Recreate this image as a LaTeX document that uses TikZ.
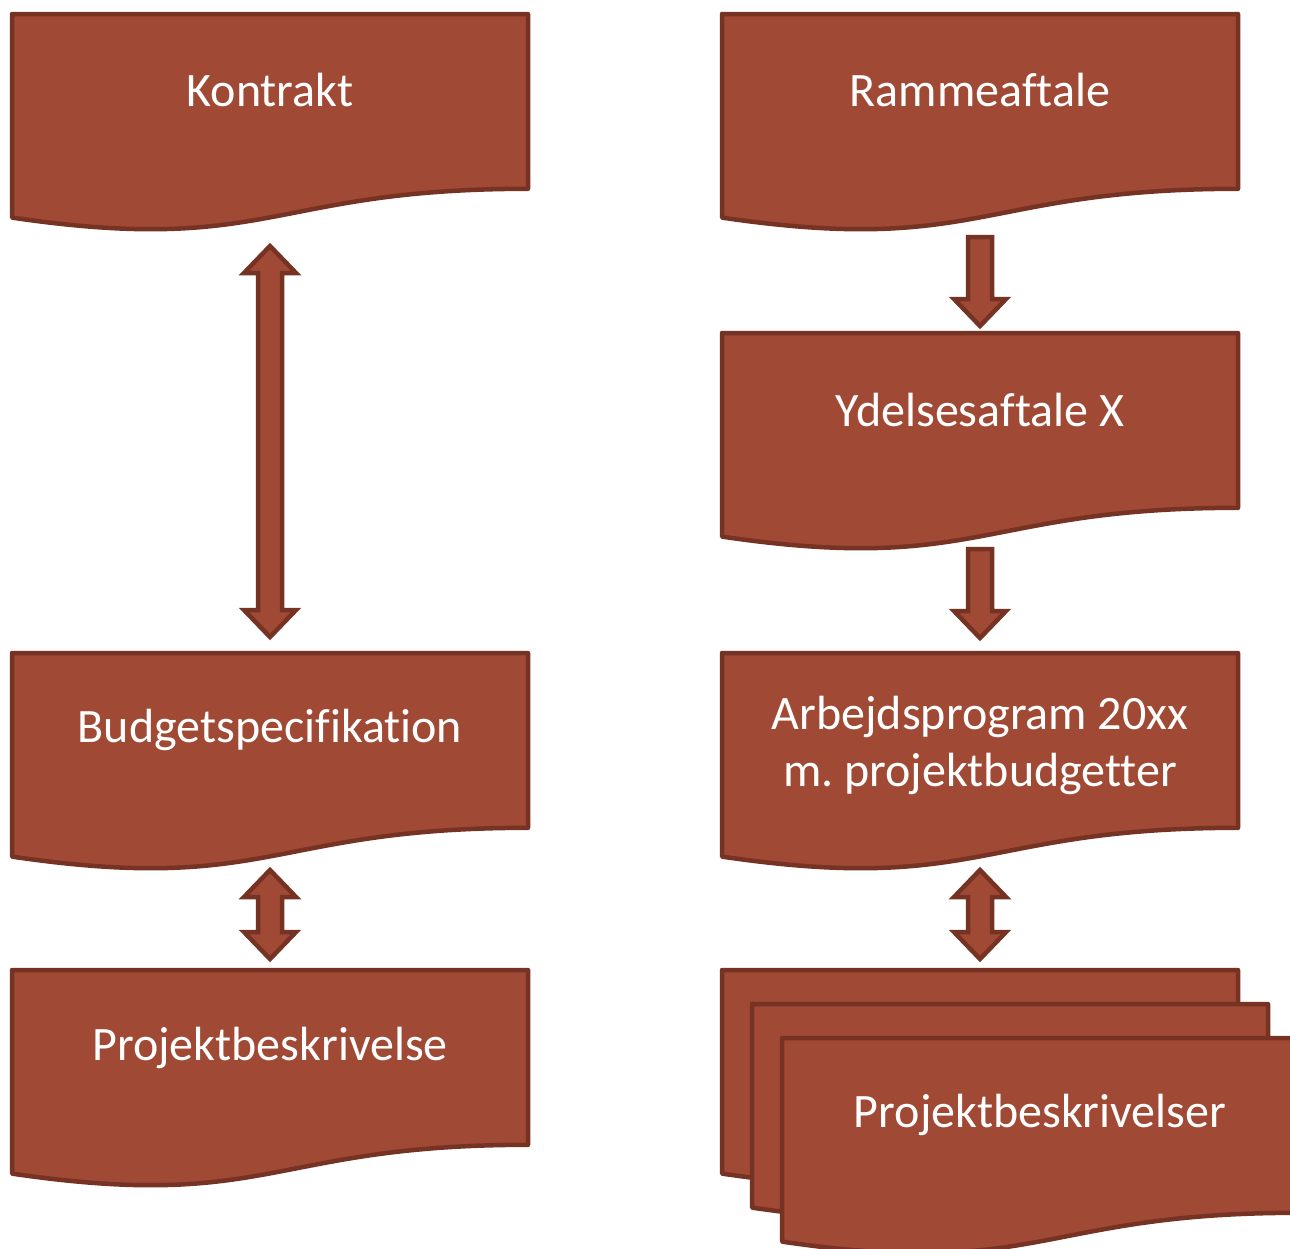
\documentclass[tikz,border=0pt]{standalone}
\usepackage{fontspec}
\setmainfont[Ligatures=CommonOff]{Carlito}
\frenchspacing
\definecolor{docfill}{RGB}{160,74,54}
\definecolor{docline}{RGB}{118,50,35}
\tikzset{
  docstyle/.style={fill=docfill,draw=docline,line width=4.5pt,line join=round},
  arrstyle/.style={fill=docfill,draw=docline,line width=4.5pt,line join=miter},
  doctext/.style={text=white,font=\fontsize{48}{57}\selectfont,align=center,inner sep=0pt}
}
% x0, y0 : top-left corner of a document shape (width 516, height 218)
\newcommand\mydoc[2]{%
  \filldraw[docstyle] (#1,#2) -- ({#1+516},#2) -- ({#1+516},{#2+174.8})
    .. controls ({#1+258},{#2+174.8}) and ({#1+258},{#2+241.4}) .. (#1,{#2+203.6}) -- cycle;}
% centre x, shaft top, tip
\newcommand\mydown[3]{%
  \filldraw[arrstyle] ({#1-12},#2) -- ({#1+12},#2) -- ({#1+12},{#3-27}) -- ({#1+26},{#3-27})
    -- (#1,#3) -- ({#1-26},{#3-27}) -- ({#1-12},{#3-27}) -- cycle;}
% centre x, top tip, bottom tip
\newcommand\mydouble[3]{%
  \filldraw[arrstyle] (#1,#2) -- ({#1+26},{#2+27}) -- ({#1+12},{#2+27}) -- ({#1+12},{#3-27})
    -- ({#1+26},{#3-27}) -- (#1,#3) -- ({#1-26},{#3-27}) -- ({#1-12},{#3-27})
    -- ({#1-12},{#2+27}) -- ({#1-26},{#2+27}) -- cycle;}
\begin{document}
\begin{tikzpicture}[x=1pt,y=-1pt]
\clip (0,0) rectangle (1290,1248);
% left column
\mydoc{12}{14}
\node[doctext] (kontrakt) at (270,90) {Kontrakt};
\mydouble{270}{246}{637}
\mydoc{12}{653}
\node[doctext] (budget) at (270,730) {Budgetspecifikation};
\mydouble{270}{870}{959}
\mydoc{12}{970}
\node[doctext] (projekt) at (270,1048) {Projektbeskrivelse};
% right column
\mydoc{722}{14}
\node[doctext] (ramme) at (980,90) {Rammeaftale};
\mydown{980}{237}{326}
\mydoc{722}{333}
\node[doctext] (ydelse) at (980,410) {Ydelsesaftale X};
\mydown{980}{549}{638}
\mydoc{722}{653}
\node[doctext] (arbejd) at (980,745) {Arbejdsprogram 20xx\\m. projektbudgetter};
\mydouble{980}{870}{959}
\mydoc{722}{970}
\mydoc{752}{1004}
\mydoc{782}{1038}
\node[doctext] (projekter) at (1040,1115) {Projektbeskrivelser};
\end{tikzpicture}
\end{document}
